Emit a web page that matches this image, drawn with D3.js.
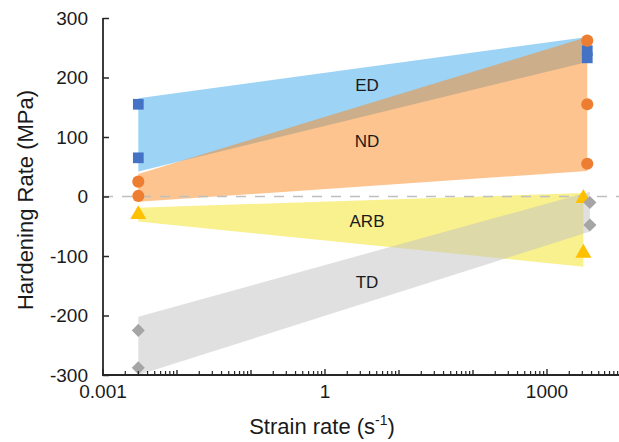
<!DOCTYPE html>
<html>
<head>
<meta charset="utf-8">
<script src="https://cdn.jsdelivr.net/npm/d3@7"></script>
<style>
  body { margin: 0; background: #fff; }
  text { font-family: "Liberation Sans", Arial, sans-serif; fill: #1a1a1a; }
</style>
</head>
<body>
<div id="chart"></div>
<script>
// bands (MPa): lower/upper edge at low and high strain rate
const bandNames = ["ED", "ND", "ARB", "TD"];
const bandColors = ["#3ba7ec", "#fb8a1f", "#f3e21d", "#c1c1c1"];
const bandLeftLow = [42, -9, -42, -300];
const bandLeftHigh = [165, 38, -19, -202];
const bandRightLow = [226, 43, -118, -59];
const bandRightHigh = [268, 268, 6, 8];
const bandLabelY = [187, 93, -42, -144];

// measured points
const lowRate = [0.003, 0.003, 0.003, 0.003];
const highRate = [3500, 3500, 3100, 3800];
const edLow = [155, 65], edHigh = [245, 233];
const ndLow = [25, 1], ndHigh = [262, 155, 55];
const arbLow = [-30], arbHigh = [-3, -95];
const tdLow = [-225, -288], tdHigh = [-10, -48];

const yTicks = [-300, -200, -100, 0, 100, 200, 300];
const xTicks = [0.001, 1, 1000];

const width = 619, height = 442;
const svg = d3.select("#chart").append("svg")
    .attr("width", width).attr("height", height);

let x = d3.scaleLog().domain([0.001, 10000]).range([103, 621]);
let y = d3.scaleLinear().domain([-300, 300]).range([375, 18]);

// bands, drawn with transparency so overlaps mix
bandNames.forEach(function(name, i) {
  let pts = [
    [x(lowRate[i]), y(bandLeftLow[i])],
    [x(lowRate[i]), y(bandLeftHigh[i])],
    [x(highRate[i]), y(bandRightHigh[i])],
    [x(highRate[i]), y(bandRightLow[i])]
  ];
  svg.append("path")
      .attr("d", d3.line()(pts) + "Z")
      .attr("fill", bandColors[i])
      .attr("fill-opacity", 0.5);
});

// zero line
svg.append("line")
    .attr("x1", x(0.001)).attr("x2", width)
    .attr("y1", y(0)).attr("y2", y(0))
    .attr("stroke", "#bfbfbf")
    .attr("stroke-width", 1.5)
    .attr("stroke-dasharray", "10,9");

// band labels
bandNames.forEach(function(name, i) {
  svg.append("text")
      .attr("x", 367)
      .attr("y", y(bandLabelY[i]))
      .attr("dy", "0.35em")
      .attr("text-anchor", "middle")
      .attr("font-size", 17)
      .text(name);
});

// markers
function addPoints(rate, vals, shape, size, color, rot) {
  svg.selectAll(null)
      .data(vals)
      .enter()
      .append("path")
      .attr("d", d3.symbol().type(shape).size(size))
      .attr("transform", function(d) {
        return "translate(" + x(rate) + "," + y(d) + ") rotate(" + (rot || 0) + ")";
      })
      .attr("fill", color);
}
addPoints(lowRate[0], edLow, d3.symbolSquare, 115, "#4472c4");
addPoints(highRate[0], edHigh, d3.symbolSquare, 115, "#4472c4");
addPoints(lowRate[1], ndLow, d3.symbolCircle, 115, "#ed7d31");
addPoints(highRate[1], ndHigh, d3.symbolCircle, 115, "#ed7d31");
addPoints(lowRate[2], arbLow, d3.symbolTriangle, 110, "#ffc000");
addPoints(highRate[2], arbHigh, d3.symbolTriangle, 110, "#ffc000");
addPoints(lowRate[3], tdLow, d3.symbolSquare, 85, "#a5a5a5", 45);
addPoints(highRate[3], tdHigh, d3.symbolSquare, 85, "#a5a5a5", 45);

// y axis
let yAxis = d3.axisRight(y).tickValues(yTicks).tickSize(6).tickFormat("");
let gy = svg.append("g")
    .attr("transform", "translate(" + x(0.001) + ",0)")
    .call(yAxis);
gy.select(".domain").attr("stroke", "#262626").attr("stroke-width", 1.8)
    .attr("d", "M0," + y(300) + "V" + y(-300));
gy.selectAll(".tick line").attr("stroke", "#262626").attr("stroke-width", 1.5);

yTicks.forEach(function(t) {
  svg.append("text")
      .attr("x", 88)
      .attr("y", y(t))
      .attr("dy", "0.35em")
      .attr("text-anchor", "end")
      .attr("font-size", 19)
      .text(t);
});

// x axis: minor ticks each 2..9, taller at decades
let minor = [];
for (let e = -3; e < 4; e++) {
  for (let k = 2; k <= 9; k++) minor.push(k * Math.pow(10, e));
}
let decades = d3.range(-3, 5).map(function(e) { return Math.pow(10, e); });

svg.append("line")
    .attr("x1", x(0.001) - 1).attr("x2", width)
    .attr("y1", y(-300)).attr("y2", y(-300))
    .attr("stroke", "#262626").attr("stroke-width", 1.8);

svg.selectAll(".minor")
    .data(minor)
    .enter()
    .append("line")
    .attr("class", "minor")
    .attr("x1", function(d) { return x(d); })
    .attr("x2", function(d) { return x(d); })
    .attr("y1", y(-300)).attr("y2", y(-300) - 4)
    .attr("stroke", "#262626").attr("stroke-width", 1.2);

svg.selectAll(".decade")
    .data(decades)
    .enter()
    .append("line")
    .attr("class", "decade")
    .attr("x1", function(d) { return x(d); })
    .attr("x2", function(d) { return x(d); })
    .attr("y1", y(-300)).attr("y2", function(d) {
      return xTicks.indexOf(d) >= 0 ? y(-300) - 6 : y(-300) - 5;
    })
    .attr("stroke", "#262626").attr("stroke-width", 1.4);

svg.selectAll(".xlab")
    .data(xTicks)
    .enter()
    .append("text")
    .attr("class", "xlab")
    .attr("x", function(d) { return x(d); })
    .attr("y", 398)
    .attr("text-anchor", "middle")
    .attr("font-size", 19)
    .text(function(d) { return d; });

// axis titles
let xt = svg.append("text")
    .attr("x", 322)
    .attr("y", 434)
    .attr("text-anchor", "middle")
    .attr("font-size", 22);
xt.append("tspan").text("Strain rate (s");
xt.append("tspan").attr("font-size", 14).attr("dy", -9).text("-1");
xt.append("tspan").attr("dy", 9).text(")");

svg.append("text")
    .attr("transform", "translate(33,200) rotate(-90)")
    .attr("text-anchor", "middle")
    .attr("font-size", 22)
    .text("Hardening Rate (MPa)");
</script>
</body>
</html>
